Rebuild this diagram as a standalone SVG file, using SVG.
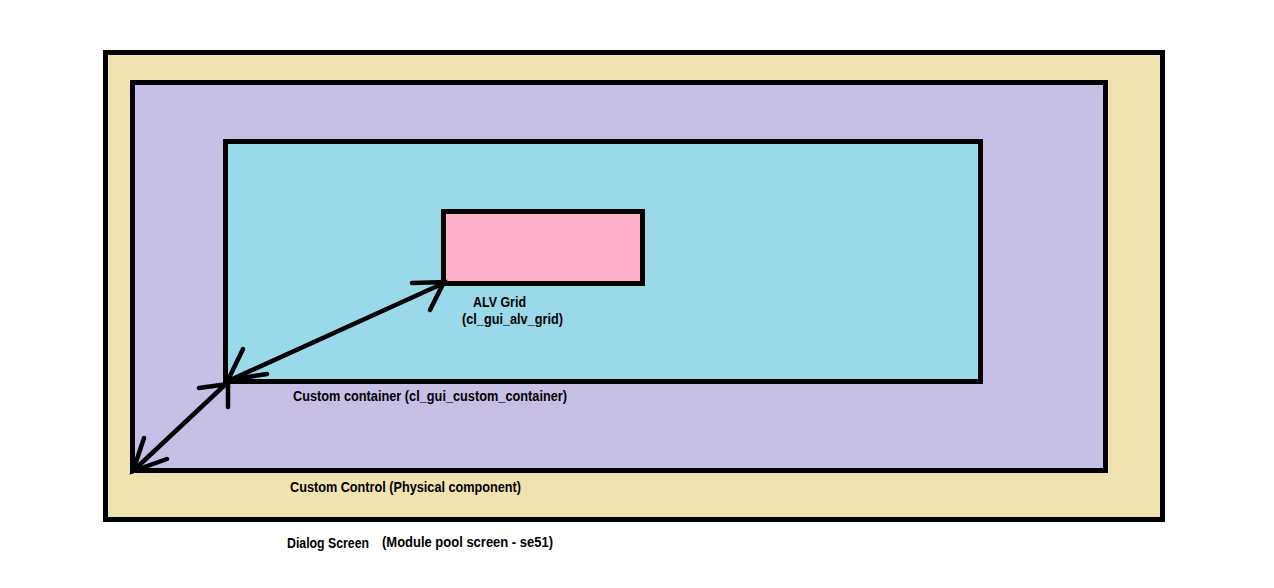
<svg xmlns="http://www.w3.org/2000/svg" width="1274" height="588" viewBox="0 0 1274 588">
<style>
.box{stroke:#000;stroke-width:5}
.lbl{font-family:"Liberation Sans",Arial,sans-serif;font-size:14px;font-weight:bold;fill:#000}
.ln{stroke:#000;stroke-width:4.5;stroke-linecap:round;fill:none}
</style>
<rect width="1274" height="588" fill="#fff"/>
<g id="dialog-screen">
<rect class="box" x="105.5" y="52.5" width="1057" height="467" fill="#EFE4B0"/>
</g>
<g id="custom-control">
<rect class="box" x="132.5" y="82.5" width="973" height="388" fill="#C8BFE7"/>
</g>
<g id="custom-container">
<rect class="box" x="225.5" y="141.5" width="755" height="240" fill="#99D9EA"/>
</g>
<g id="alv-grid">
<rect class="box" x="443.5" y="211.5" width="199" height="72" fill="#FFAEC9"/>
</g>
<g id="connectors">
<path class="ln" d="M444 283 L228 381"/>
<path class="ln" d="M412 283 L444 282 L430 310"/>
<path class="ln" d="M243 349 L228 380 L267 374"/>
<path class="ln" d="M228 382 L133 471"/>
<path class="ln" d="M199 388 L228 384"/>
<path class="ln" d="M228 380 L228 407"/>
<path class="ln" d="M144 438 L133 471 L167 459"/>
</g>
<g id="labels">
<text class="lbl" x="473" y="307" textLength="53" lengthAdjust="spacingAndGlyphs">ALV Grid</text>
<text class="lbl" x="462" y="324" textLength="101" lengthAdjust="spacingAndGlyphs">(cl_gui_alv_grid)</text>
<text class="lbl" x="293" y="401" textLength="274" lengthAdjust="spacingAndGlyphs">Custom container (cl_gui_custom_container)</text>
<text class="lbl" x="290" y="492" textLength="231" lengthAdjust="spacingAndGlyphs">Custom Control (Physical component)</text>
<text class="lbl" x="287" y="548" textLength="82" lengthAdjust="spacingAndGlyphs">Dialog Screen</text>
<text class="lbl" x="382" y="547" textLength="171" lengthAdjust="spacingAndGlyphs">(Module pool screen - se51)</text>
</g>
</svg>
